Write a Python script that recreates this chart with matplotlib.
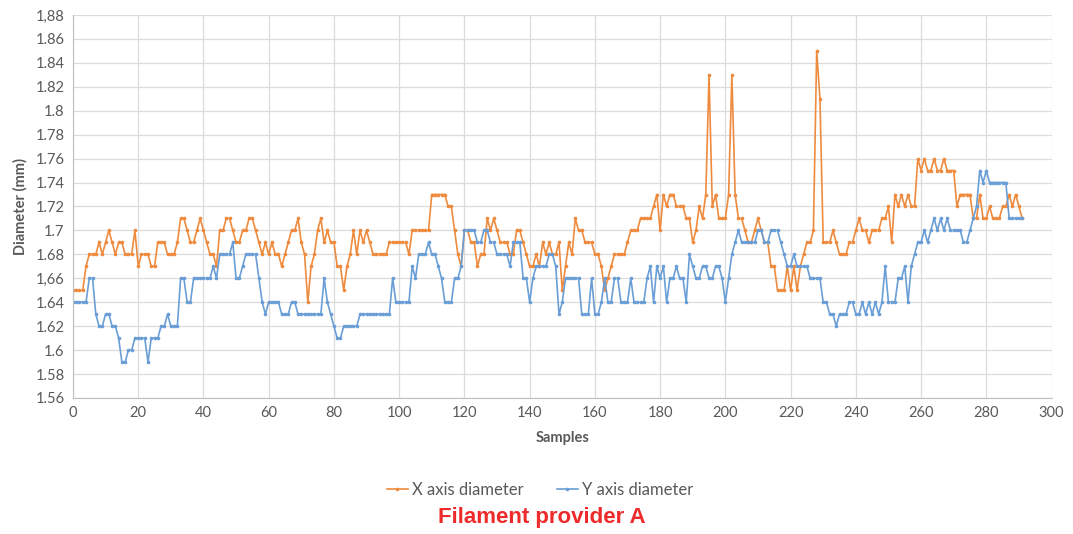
import matplotlib
matplotlib.use("Agg")
import matplotlib.pyplot as plt
import numpy as np

# diameter readings per sample (mm)
x_diameter = [
    1.65, 1.65, 1.65, 1.65, 1.67, 1.68, 1.68, 1.68, 1.69, 1.68,
    1.69, 1.70, 1.69, 1.68, 1.69, 1.69, 1.68, 1.68, 1.68, 1.70,
    1.67, 1.68, 1.68, 1.68, 1.67, 1.67, 1.69, 1.69, 1.69, 1.68,
    1.68, 1.68, 1.69, 1.71, 1.71, 1.70, 1.69, 1.69, 1.70, 1.71,
    1.70, 1.69, 1.68, 1.68, 1.67, 1.70, 1.70, 1.71, 1.71, 1.70,
    1.69, 1.69, 1.70, 1.70, 1.71, 1.71, 1.70, 1.69, 1.68, 1.69,
    1.68, 1.69, 1.68, 1.68, 1.67, 1.68, 1.69, 1.70, 1.70, 1.71,
    1.69, 1.68, 1.64, 1.67, 1.68, 1.70, 1.71, 1.69, 1.70, 1.69,
    1.69, 1.67, 1.67, 1.65, 1.67, 1.68, 1.70, 1.68, 1.70, 1.69,
    1.70, 1.69, 1.68, 1.68, 1.68, 1.68, 1.68, 1.69, 1.69, 1.69,
    1.69, 1.69, 1.69, 1.68, 1.70, 1.70, 1.70, 1.70, 1.70, 1.70,
    1.73, 1.73, 1.73, 1.73, 1.73, 1.72, 1.72, 1.70, 1.68, 1.67,
    1.70, 1.70, 1.69, 1.69, 1.67, 1.68, 1.68, 1.71, 1.70, 1.71,
    1.70, 1.69, 1.69, 1.69, 1.68, 1.68, 1.70, 1.70, 1.69, 1.68,
    1.67, 1.67, 1.68, 1.67, 1.69, 1.68, 1.69, 1.68, 1.68, 1.69,
    1.65, 1.67, 1.69, 1.68, 1.71, 1.70, 1.70, 1.69, 1.69, 1.69,
    1.68, 1.68, 1.67, 1.65, 1.66, 1.67, 1.68, 1.68, 1.68, 1.68,
    1.69, 1.70, 1.70, 1.70, 1.71, 1.71, 1.71, 1.71, 1.72, 1.73,
    1.70, 1.73, 1.72, 1.73, 1.73, 1.72, 1.72, 1.72, 1.71, 1.71,
    1.69, 1.70, 1.72, 1.71, 1.73, 1.83, 1.72, 1.73, 1.71, 1.71,
    1.71, 1.73, 1.83, 1.73, 1.71, 1.71, 1.70, 1.69, 1.69, 1.70,
    1.71, 1.70, 1.69, 1.69, 1.67, 1.67, 1.65, 1.65, 1.65, 1.67,
    1.65, 1.67, 1.65, 1.67, 1.68, 1.69, 1.69, 1.70, 1.85, 1.81,
    1.69, 1.69, 1.69, 1.70, 1.69, 1.68, 1.68, 1.68, 1.69, 1.69,
    1.70, 1.71, 1.70, 1.70, 1.69, 1.70, 1.70, 1.70, 1.71, 1.71,
    1.72, 1.69, 1.73, 1.72, 1.73, 1.72, 1.73, 1.72, 1.72, 1.76,
    1.75, 1.76, 1.75, 1.75, 1.76, 1.75, 1.75, 1.76, 1.75, 1.75,
    1.75, 1.72, 1.73, 1.73, 1.73, 1.73, 1.71, 1.71, 1.73, 1.71,
    1.71, 1.72, 1.71, 1.71, 1.71, 1.72, 1.72, 1.73, 1.72, 1.73,
    1.72, 1.71,
]

y_diameter = [
    1.64, 1.64, 1.64, 1.64, 1.64, 1.66, 1.66, 1.63, 1.62, 1.62,
    1.63, 1.63, 1.62, 1.62, 1.61, 1.59, 1.59, 1.60, 1.60, 1.61,
    1.61, 1.61, 1.61, 1.59, 1.61, 1.61, 1.61, 1.62, 1.62, 1.63,
    1.62, 1.62, 1.62, 1.66, 1.66, 1.64, 1.64, 1.66, 1.66, 1.66,
    1.66, 1.66, 1.66, 1.67, 1.66, 1.68, 1.68, 1.68, 1.68, 1.69,
    1.66, 1.66, 1.67, 1.68, 1.68, 1.68, 1.68, 1.66, 1.64, 1.63,
    1.64, 1.64, 1.64, 1.64, 1.63, 1.63, 1.63, 1.64, 1.64, 1.63,
    1.63, 1.63, 1.63, 1.63, 1.63, 1.63, 1.63, 1.66, 1.64, 1.63,
    1.62, 1.61, 1.61, 1.62, 1.62, 1.62, 1.62, 1.62, 1.63, 1.63,
    1.63, 1.63, 1.63, 1.63, 1.63, 1.63, 1.63, 1.63, 1.66, 1.64,
    1.64, 1.64, 1.64, 1.64, 1.67, 1.66, 1.68, 1.68, 1.68, 1.69,
    1.68, 1.68, 1.67, 1.66, 1.64, 1.64, 1.64, 1.66, 1.66, 1.67,
    1.70, 1.70, 1.70, 1.70, 1.69, 1.69, 1.70, 1.70, 1.69, 1.69,
    1.68, 1.68, 1.68, 1.68, 1.67, 1.69, 1.69, 1.69, 1.66, 1.66,
    1.64, 1.66, 1.67, 1.67, 1.67, 1.67, 1.68, 1.68, 1.67, 1.63,
    1.64, 1.66, 1.66, 1.66, 1.66, 1.66, 1.63, 1.63, 1.63, 1.66,
    1.63, 1.63, 1.64, 1.66, 1.64, 1.64, 1.66, 1.66, 1.64, 1.64,
    1.64, 1.66, 1.64, 1.64, 1.64, 1.64, 1.66, 1.67, 1.64, 1.67,
    1.66, 1.67, 1.64, 1.66, 1.66, 1.67, 1.66, 1.66, 1.64, 1.68,
    1.67, 1.66, 1.66, 1.67, 1.67, 1.66, 1.66, 1.67, 1.67, 1.66,
    1.64, 1.66, 1.68, 1.69, 1.70, 1.69, 1.69, 1.69, 1.69, 1.69,
    1.70, 1.70, 1.69, 1.69, 1.70, 1.70, 1.70, 1.69, 1.68, 1.67,
    1.67, 1.68, 1.67, 1.67, 1.67, 1.67, 1.66, 1.66, 1.66, 1.66,
    1.64, 1.64, 1.63, 1.63, 1.62, 1.63, 1.63, 1.63, 1.64, 1.64,
    1.63, 1.63, 1.64, 1.63, 1.64, 1.63, 1.64, 1.63, 1.64, 1.67,
    1.64, 1.64, 1.64, 1.66, 1.66, 1.67, 1.64, 1.67, 1.68, 1.69,
    1.69, 1.70, 1.69, 1.70, 1.71, 1.70, 1.71, 1.70, 1.71, 1.70,
    1.70, 1.70, 1.70, 1.69, 1.69, 1.70, 1.71, 1.72, 1.75, 1.74,
    1.75, 1.74, 1.74, 1.74, 1.74, 1.74, 1.74, 1.71, 1.71, 1.71,
    1.71, 1.71,
]

samples = np.arange(len(x_diameter))

y_ticks = np.arange(1.56, 1.881, 0.02)
y_tick_labels = ["1.56", "1.58", "1.6", "1.62", "1.64", "1,66", "1.68", "1.7",
                 "1.72", "1.74", "1.76", "1.78", "1.8", "1.82", "1.84", "1.86", "1,88"]
x_ticks = np.arange(0, 301, 20)

plt.rcParams['font.family'] = ['Lato', 'DejaVu Sans']

orange = '#EE8B3E'
blue = '#6A9ED6'
text_gray = '#595959'

fig = plt.figure(figsize=(10.73, 5.34), dpi=100)
ax = fig.add_axes([0.068, 0.2547, 0.912, 0.7173])

ax.plot(samples, x_diameter, color=orange, lw=1.2, marker='o', ms=1.6,
        label='X axis diameter')
ax.plot(samples, y_diameter, color=blue, lw=1.2, marker='o', ms=1.6,
        label='Y axis diameter')

ax.set_xlim(0, 300)
ax.set_ylim(1.56, 1.88)
ax.set_xticks(x_ticks)
ax.set_yticks(y_ticks)
ax.set_yticklabels(y_tick_labels)
ax.tick_params(length=0, labelsize=10.5, labelcolor=text_gray, pad=6)
ax.grid(True, color='#DCDCDC', lw=0.9)
ax.set_axisbelow(True)
for side in ['top', 'right']:
    ax.spines[side].set_visible(False)
for side in ['left', 'bottom']:
    ax.spines[side].set_color('#BFBFBF')

ax.set_xlabel('Samples', fontsize=10.5, fontweight='bold', color=text_gray, labelpad=8)
ax.set_ylabel('Diameter (mm)', fontsize=10.5, fontweight='bold', color=text_gray, labelpad=6)

fig.legend(loc='center', bbox_to_anchor=(0.503, 0.082), ncol=2, frameon=False,
           fontsize=12, handlelength=1.3, handletextpad=0.2, columnspacing=2.0,
           labelcolor=text_gray)

fig.text(0.505, 0.030, 'Filament provider A', ha='center', va='center',
         fontsize=16, fontweight='bold', color='#EE2A2A',
         family=['Liberation Sans', 'DejaVu Sans'])

fig.savefig('out.png', dpi=100)
